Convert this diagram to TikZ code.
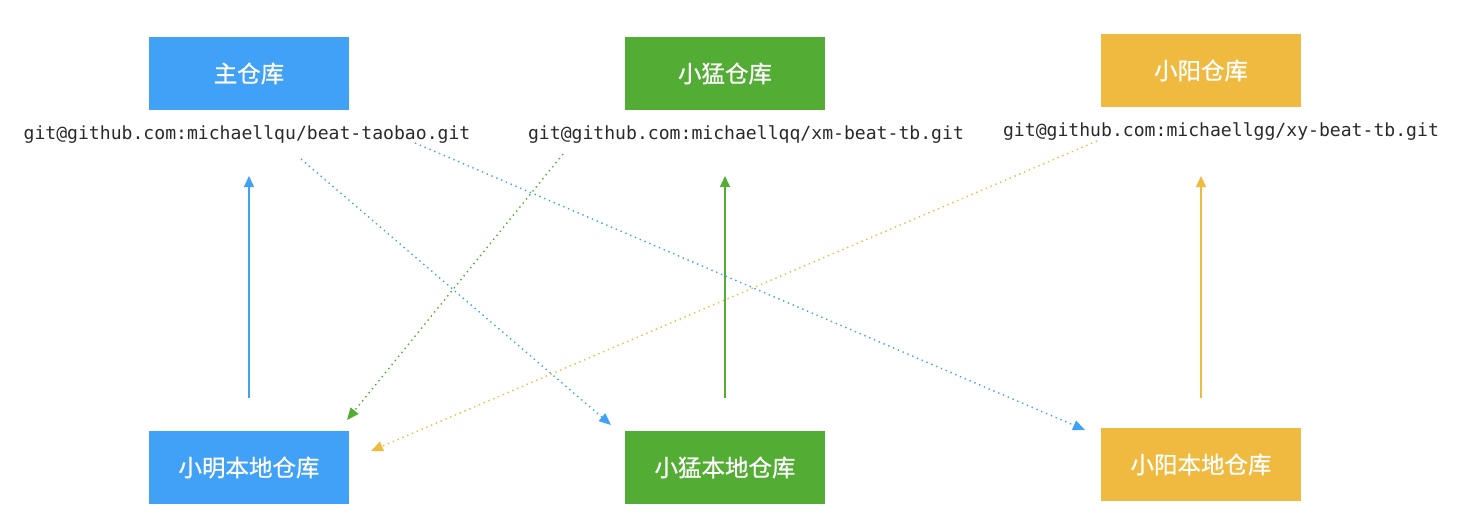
\documentclass[tikz,border=0pt]{standalone}
\usepackage{fontspec}
\newfontfamily\cjk{Noto Sans CJK SC}[FakeBold=0.6]
\newfontfamily\mono{DejaVu Sans Mono}
\usetikzlibrary{arrows.meta}
\definecolor{cblue}{HTML}{41A1F6}
\definecolor{cgreen}{HTML}{53AC33}
\definecolor{cyellow}{HTML}{F0BA40}
\definecolor{ctext}{HTML}{2A2A2A}
\tikzset{
  repo/.style={fill=#1, draw=none, minimum width=200pt, minimum height=73pt, inner sep=0pt, text=white, font=\cjk\fontsize{23.5}{27}\selectfont},
  url/.style={inner sep=0pt, text=ctext, font=\mono\fontsize{18.1}{20}\selectfont},
  push/.style={draw=#1, line width=1.4pt, -{Triangle[length=11pt,width=10pt]}},
  pull/.style={draw=#1, line width=1.4pt, dash pattern=on 1.4pt off 3.8pt, -{Triangle[length=12pt,width=10pt]}}
}
\begin{document}
\begin{tikzpicture}[x=1pt,y=-1pt]
\useasboundingbox (0,0) rectangle (1478,522);
\node[repo=cblue] (main) at (249,73.5) {主仓库};
\node[repo=cgreen] (xm) at (725,73.5) {小猛仓库};
\node[repo=cyellow] (xy) at (1201,70.5) {小阳仓库};
\node[repo=cblue] (lming) at (249,467.5) {小明本地仓库};
\node[repo=cgreen] (lmeng) at (725,467.5) {小猛本地仓库};
\node[repo=cyellow] (lyang) at (1201,464.5) {小阳本地仓库};
\node[url] (umain) at (247,134.5) {git@github.com:michaellqu/beat-taobao.git};
\node[url] (uxm) at (746,134.5) {git@github.com:michaellqq/xm-beat-tb.git};
\node[url] (uxy) at (1221,131.5) {git@github.com:michaellgg/xy-beat-tb.git};
% push arrows
\coordinate (p1s) at (249,398); \coordinate (p1e) at (249,176);
\coordinate (p2s) at (725,398); \coordinate (p2e) at (725,176);
\coordinate (p3s) at (1201,398); \coordinate (p3e) at (1201,176);
\draw[push=cblue] (p1s) -- (p1e);
\draw[push=cgreen] (p2s) -- (p2e);
\draw[push=cyellow] (p3s) -- (p3e);
% pull arrows
\coordinate (a1s) at (301,159); \coordinate (a1e) at (611,425);
\coordinate (a2s) at (415,143); \coordinate (a2e) at (1085,430);
\coordinate (a3s) at (563,154); \coordinate (a3e) at (347,420);
\coordinate (a4s) at (1097,141); \coordinate (a4e) at (371,451);
\draw[pull=cblue] (a1s) -- (a1e);
\draw[pull=cblue] (a2s) -- (a2e);
\draw[pull=cgreen] (a3s) -- (a3e);
\draw[pull=cyellow] (a4s) -- (a4e);
\end{tikzpicture}
\end{document}
